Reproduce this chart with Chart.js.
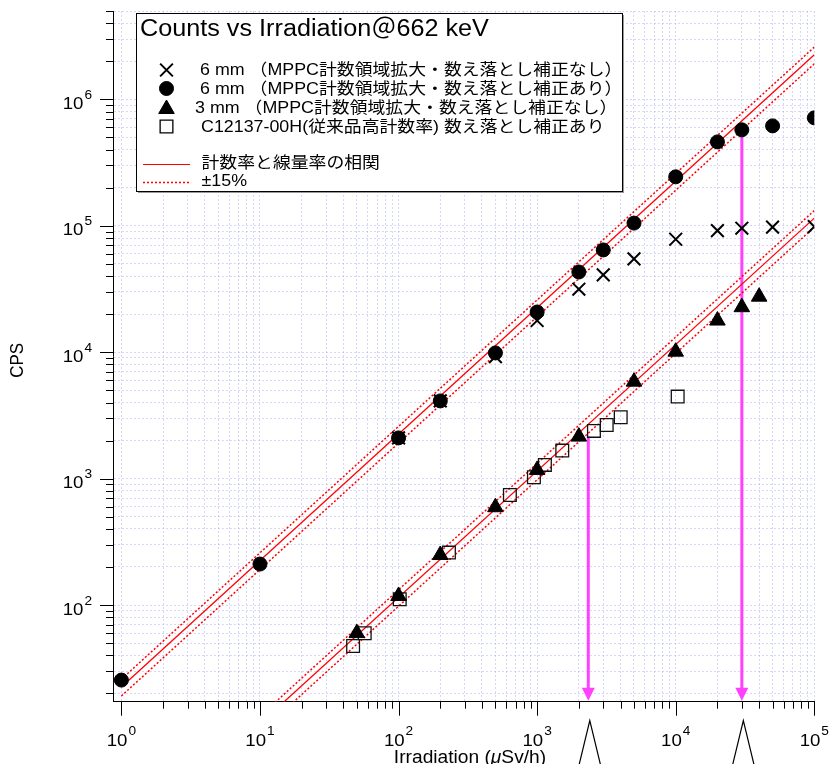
<!DOCTYPE html>
<html>
<head>
<meta charset="utf-8">
<script src="https://cdn.jsdelivr.net/npm/chart.js@4.4.1/dist/chart.umd.min.js"></script>
<style>
  html, body { margin: 0; padding: 0; background: #fff; overflow: hidden; }
  #wrap { width: 830px; height: 764px; }
</style>
</head>
<body>
<div id="wrap"><canvas id="chart" width="830" height="764"></canvas></div>
<script>
// Counts vs Irradiation @ 662 keV

// 6 mm, MPPC extended range, no dead-time correction (crosses)
const xCross = [100, 200, 500, 1000, 2000, 3000, 5000, 10000, 20000, 30000, 50000, 100000];
const yCross = [2100, 4120, 9230, 17800, 31500, 40900, 54700, 78300, 91600, 95700, 97500, 98500];

// 6 mm, with dead-time correction (circles)
const xCircle = [1, 10, 100, 200, 500, 1000, 2000, 3000, 5000, 10000, 20000, 30000, 50000, 100000];
const yCircle = [25.5, 211, 2100, 4120, 9870, 20800, 43100, 64400, 105000, 244000, 461000, 574000, 617000, 714000];

// 3 mm, no correction (triangles)
const xTriangle = [50, 100, 200, 500, 1000, 2000, 5000, 10000, 20000, 30000, 40000];
const yTriangle = [60, 118, 249, 594, 1172, 2150, 5850, 10100, 17800, 22700, 27500];

// C12137-00H (squares)
const xSquare = [47, 57, 102, 231, 636, 948, 1138, 1518, 2570, 3177, 4009, 10330];
const ySquare = [47.5, 59.8, 111, 260, 743, 1026, 1284, 1666, 2385, 2660, 3060, 4456];

// correlation lines and +-15% band
const fitX = [1, 100000];
const fitHigh = [22.5, 2250000];
const fitHighPlus = [25.9, 2590000];
const fitHighMinus = [19.1, 1910000];
const fitLow = [1.15, 115000];
const fitLowPlus = [1.32, 132000];
const fitLowMinus = [0.98, 97800];

// magenta arrows
const arrowX = [2340, 30000];
const arrowTopY = [2150, 574000];

const xRange = [0.87, 100000];
const yRange = [17.2, 5000000];

const legendLabels = [
  '6 mm （MPPC計数領域拡大・数え落とし補正なし）',
  '6 mm （MPPC計数領域拡大・数え落とし補正あり）',
  '3 mm （MPPC計数領域拡大・数え落とし補正なし）',
  'C12137-00H(従来品高計数率) 数え落とし補正あり',
];
const lineLabels = ['計数率と線量率の相関', '±15%'];
const chartTitle = 'Counts vs Irradiation＠662 keV';

const FONT = '"Liberation Sans", "Noto Sans CJK JP", sans-serif';
const STRETCH = 1.096; // reference text is a bit wider than tall
const GRID = 'rgba(150,150,240,0.38)';
const MAGENTA = 'rgb(255,64,255)';

const pts = (xs, ys) => xs.map((x, i) => ({ x: x, y: ys[i] }));

function logTicks(scale) {
  const out = [];
  for (let e = 0; e <= 7; e++) {
    for (let m = 1; m < 10; m++) {
      const v = m * Math.pow(10, e);
      if (v >= scale.min * 0.9999 && v <= scale.max * 1.0001) out.push({ value: v });
    }
  }
  scale.ticks = out;
}

function isPow10(v) {
  const l = Math.log10(v);
  return Math.abs(l - Math.round(l)) < 1e-6;
}

function textW(ctx, text, size, style) {
  ctx.font = (style || '') + ' ' + size + 'px ' + FONT;
  return ctx.measureText(text).width * STRETCH;
}

function drawText(ctx, text, x, y, size, opts) {
  opts = opts || {};
  ctx.save();
  ctx.font = (opts.style || '') + ' ' + size + 'px ' + FONT;
  ctx.fillStyle = opts.color || '#000';
  ctx.textAlign = opts.align || 'left';
  ctx.textBaseline = opts.baseline || 'alphabetic';
  ctx.translate(x, y);
  if (opts.rotate) ctx.rotate(opts.rotate);
  if (opts.rotate) ctx.scale(1, STRETCH); else ctx.scale(STRETCH, 1);
  ctx.fillText(text, 0, 0);
  ctx.restore();
}

function marker(ctx, style, x, y) {
  ctx.save();
  ctx.fillStyle = style === 'rect' ? 'rgba(0,0,0,0)' : '#000';
  ctx.strokeStyle = '#000';
  const o = { pointStyle: style, rotation: 0, radius: 7, borderWidth: 1 };
  if (style === 'crossRot') { o.radius = 9; o.borderWidth = 2; }
  if (style === 'triangle') o.radius = 9;
  if (style === 'rect') { o.radius = 9; o.borderWidth = 1.3; }
  ctx.lineWidth = o.borderWidth;
  Chart.helpers.drawPoint(ctx, o, x, y);
  ctx.restore();
}

const decor = {
  id: 'decor',
  beforeDatasetsDraw(chart) {
    const ctx = chart.ctx, xs = chart.scales.x, ys = chart.scales.y;
    const tip = chart.chartArea.bottom - 1;
    ctx.save();
    ctx.strokeStyle = MAGENTA;
    ctx.fillStyle = MAGENTA;
    ctx.lineWidth = 3;
    arrowX.forEach((v, i) => {
      const px = xs.getPixelForValue(v);
      const top = ys.getPixelForValue(arrowTopY[i]);
      ctx.beginPath();
      ctx.moveTo(px, top);
      ctx.lineTo(px, tip - 12);
      ctx.stroke();
      ctx.beginPath();
      ctx.moveTo(px - 6.5, tip - 13);
      ctx.lineTo(px + 6.5, tip - 13);
      ctx.lineTo(px, tip);
      ctx.closePath();
      ctx.fill();
    });
    ctx.restore();
  },
  afterDraw(chart) {
    const ctx = chart.ctx, xs = chart.scales.x, ys = chart.scales.y;
    const area = chart.chartArea;

    // tick marks
    ctx.save();
    ctx.strokeStyle = '#000';
    ctx.lineWidth = 1;
    ctx.beginPath();
    xs.ticks.forEach((t) => {
      const px = Math.round(xs.getPixelForValue(t.value)) + 0.5;
      const len = isPow10(t.value) ? 14 : 7;
      ctx.moveTo(px, area.bottom);
      ctx.lineTo(px, area.bottom + len);
    });
    ys.ticks.forEach((t) => {
      const py = Math.round(ys.getPixelForValue(t.value)) + 0.5;
      const len = isPow10(t.value) ? 13 : 7;
      ctx.moveTo(area.left, py);
      ctx.lineTo(area.left - len, py);
    });
    ctx.stroke();
    ctx.restore();

    // tick labels 10^n
    xs.ticks.filter((t) => isPow10(t.value)).forEach((t) => {
      const e = String(Math.round(Math.log10(t.value)));
      const px = xs.getPixelForValue(t.value);
      const w1 = textW(ctx, '10', 17), w2 = textW(ctx, e, 12.5);
      const start = px - (w1 + w2 + 1) / 2;
      drawText(ctx, '10', start, 745.5, 17);
      drawText(ctx, e, start + w1 + 1, 734.5, 12.5);
    });
    ys.ticks.filter((t) => isPow10(t.value)).forEach((t) => {
      const e = String(Math.round(Math.log10(t.value)));
      const py = ys.getPixelForValue(t.value);
      const w1 = textW(ctx, '10', 17), w2 = textW(ctx, e, 12.5);
      const start = 92 - (w1 + w2 + 1);
      drawText(ctx, '10', start, py + 9.5, 17);
      drawText(ctx, e, start + w1 + 1, py - 0.5, 12.5);
    });

    // axis titles
    drawText(ctx, 'CPS', 18, (area.top + area.bottom) / 2 + 4, 17, { rotate: -Math.PI / 2, align: 'center', baseline: 'middle' });
    const parts = [['Irradiation (', ''], ['μ', 'italic'], ['Sv/h)', '']];
    const total = parts.reduce((s, p) => s + textW(ctx, p[0], 17.5, p[1]), 0);
    let tx = 470 - total / 2;
    parts.forEach((p) => {
      drawText(ctx, p[0], tx, 763, 17.5, { style: p[1] });
      tx += textW(ctx, p[0], 17.5, p[1]);
    });

    // wedge marks under the arrows
    ctx.save();
    ctx.strokeStyle = '#000';
    ctx.lineWidth = 1.2;
    arrowX.forEach((v) => {
      const px = xs.getPixelForValue(v) + 1.5;
      ctx.beginPath();
      ctx.moveTo(px - 11, 766);
      ctx.lineTo(px, 720.5);
      ctx.lineTo(px + 11, 766);
      ctx.stroke();
    });
    ctx.restore();

    // legend box
    const bx = 136.5, by = 13.5, bw = 486, bh = 178;
    ctx.save();
    ctx.fillStyle = '#999';
    ctx.fillRect(bx + 1.5, by + 1.5, bw, bh);
    ctx.fillStyle = '#fff';
    ctx.fillRect(bx, by, bw, bh);
    ctx.strokeStyle = '#000';
    ctx.lineWidth = 1;
    ctx.strokeRect(bx, by, bw, bh);
    ctx.restore();

    drawText(ctx, chartTitle, 140, 36, 23);

    const rowY = [70, 88.5, 107.5, 126.5];
    const rowX = [200, 200, 195, 201];
    const styles = ['crossRot', 'circle', 'triangle', 'rect'];
    legendLabels.forEach((lab, i) => {
      marker(ctx, styles[i], 166.5, rowY[i] + (styles[i] === 'triangle' ? 1.5 : 0));
      drawText(ctx, lab, rowX[i], rowY[i] + 1, 16.3, { baseline: 'middle' });
    });

    ctx.save();
    ctx.strokeStyle = 'red';
    ctx.lineWidth = 1.2;
    ctx.beginPath();
    ctx.moveTo(143, 164.5);
    ctx.lineTo(190, 164.5);
    ctx.stroke();
    ctx.lineWidth = 1.5;
    ctx.setLineDash([2, 2]);
    ctx.beginPath();
    ctx.moveTo(143, 182.5);
    ctx.lineTo(190, 182.5);
    ctx.stroke();
    ctx.restore();
    drawText(ctx, lineLabels[0], 201.5, 164, 16.3, { baseline: 'middle' });
    drawText(ctx, lineLabels[1], 201.5, 182, 16.3, { baseline: 'middle' });
  },
};

function lineSet(ys, dashed) {
  return {
    data: pts(fitX, ys),
    showLine: true,
    pointRadius: 0,
    borderColor: 'rgb(255,0,0)',
    borderWidth: dashed ? 1.5 : 1.3,
    borderDash: dashed ? [2, 2] : [],
    fill: false,
  };
}

new Chart(document.getElementById('chart').getContext('2d'), {
  type: 'scatter',
  data: {
    datasets: [
      { data: pts(xTriangle, yTriangle), pointStyle: 'triangle', pointRadius: 9, backgroundColor: '#000', borderColor: '#000', borderWidth: 1 },
      { data: pts(xSquare, ySquare), pointStyle: 'rect', pointRadius: 9, backgroundColor: 'rgba(0,0,0,0)', borderColor: '#111', borderWidth: 1.3 },
      { data: pts(xCircle, yCircle), pointStyle: 'circle', pointRadius: 7, backgroundColor: '#000', borderColor: '#000', borderWidth: 1 },
      { data: pts(xCross, yCross), pointStyle: 'crossRot', pointRadius: 9, backgroundColor: '#000', borderColor: '#000', borderWidth: 2 },
      lineSet(fitHigh, false),
      lineSet(fitHighPlus, true),
      lineSet(fitHighMinus, true),
      lineSet(fitLow, false),
      lineSet(fitLowPlus, true),
      lineSet(fitLowMinus, true),
    ],
  },
  options: {
    responsive: false,
    devicePixelRatio: 1,
    animation: false,
    events: [],
    layout: { padding: { left: 113, right: 15.7, top: 11, bottom: 62.3 } },
    plugins: { legend: { display: false }, tooltip: { enabled: false } },
    scales: {
      x: {
        type: 'logarithmic',
        min: xRange[0],
        max: xRange[1],
        bounds: 'data',
        afterBuildTicks: logTicks,
        ticks: { display: false },
        grid: { color: GRID, lineWidth: 1, drawTicks: false },
        border: { display: true, color: '#000', width: 1, dash: [2, 2] },
      },
      y: {
        type: 'logarithmic',
        min: yRange[0],
        max: yRange[1],
        bounds: 'data',
        afterBuildTicks: logTicks,
        ticks: { display: false },
        grid: { color: GRID, lineWidth: 1, drawTicks: false },
        border: { display: true, color: '#000', width: 1, dash: [2, 2] },
      },
    },
  },
  plugins: [decor],
});
</script>
</body>
</html>
